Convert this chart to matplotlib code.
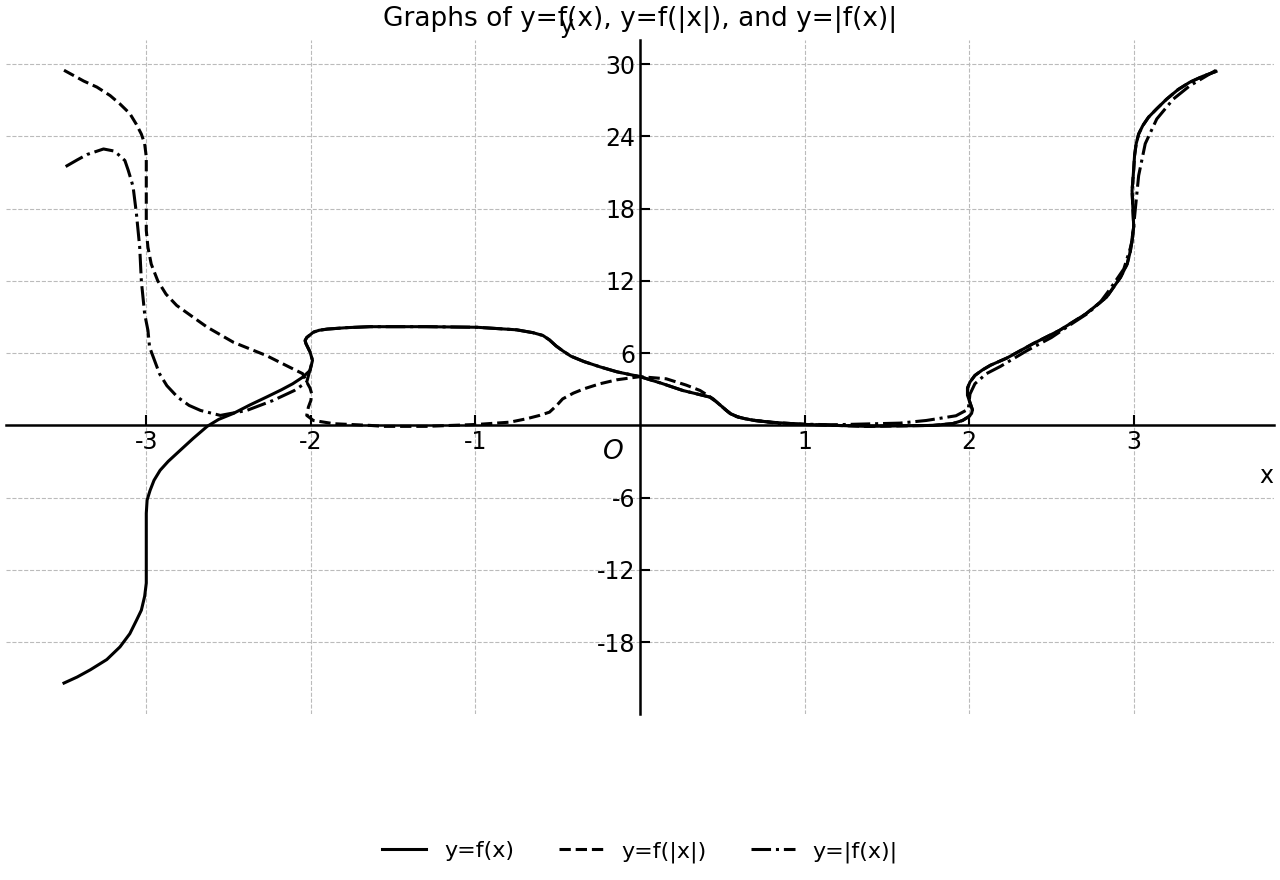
import matplotlib
matplotlib.use("Agg")
import matplotlib.pyplot as plt

plt.rcParams["axes.unicode_minus"] = False

# y = f(x) as (x, y) points
fx_x = [-3.50, -3.42, -3.34, -3.24, -3.16, -3.10, -3.06, -3.03, -3.01, -3.00,
        -3.00, -3.00, -2.995, -2.977, -2.953, -2.916, -2.867, -2.794, -2.715, -2.63,
        -2.56, -2.47, -2.37, -2.27, -2.18, -2.11, -2.05, -2.005, -1.99, -2.005,
        -2.03, -2.035, -2.025, -1.985, -1.95, -1.90, -1.78, -1.64, -1.30, -0.99,
        -0.75, -0.65, -0.59, -0.55, -0.51, -0.47, -0.42, -0.34, -0.24, -0.14,
        0.00, 0.13, 0.26, 0.425, 0.46, 0.49, 0.52, 0.55, 0.59, 0.64,
        0.70, 0.81, 1.00, 1.38, 1.78, 1.90, 1.96, 2.00, 2.015, 2.02,
        2.005, 1.99, 1.99, 2.005, 2.035, 2.08, 2.13, 2.23, 2.39, 2.55,
        2.71, 2.835, 2.92, 2.96, 2.98, 3.00, 2.99, 3.00, 3.005, 3.015,
        3.03, 3.055, 3.09, 3.14, 3.20, 3.27, 3.34, 3.42, 3.50]
fx_y = [-21.4, -20.9, -20.3, -19.45, -18.4, -17.3, -16.2, -15.35, -14.2, -13.1,
        -10.1, -7.3, -6.2, -5.4, -4.56, -3.73, -2.99, -2.07, -1.08, -0.08,
        0.5, 1.0, 1.7, 2.35, 2.95, 3.46, 4.0, 4.56, 5.4, 6.1,
        6.8, 7.05, 7.3, 7.74, 7.9, 8.0, 8.12, 8.2, 8.2, 8.15,
        7.94, 7.7, 7.47, 7.1, 6.6, 6.2, 5.75, 5.3, 4.85, 4.45,
        4.05, 3.5, 2.9, 2.35, 2.0, 1.66, 1.3, 0.97, 0.72, 0.55,
        0.40, 0.25, 0.08, -0.08, 0.0, 0.15, 0.41, 0.75, 1.0, 1.3,
        1.9, 2.5, 3.1, 3.6, 4.15, 4.6, 5.0, 5.6, 6.8, 7.9,
        9.27, 10.65, 12.3, 13.4, 14.5, 16.5, 19.5, 21.3, 22.4, 23.4,
        24.2, 24.9, 25.6, 26.3, 27.1, 27.9, 28.5, 29.0, 29.4]

# y = f(|x|)
fabs_x = [-3.50, -3.38, -3.30, -3.22, -3.16, -3.10, -3.06, -3.03, -3.01, -3.00,
          -3.00, -3.00, -3.00, -2.99, -2.97, -2.93, -2.88, -2.815, -2.73, -2.63,
          -2.47, -2.27, -2.13, -2.05, -2.025, -2.005, -1.995, -2.00, -2.015, -2.025,
          -1.985, -1.86, -1.64, -1.56, -1.30, -0.99, -0.79, -0.69, -0.61, -0.55,
          -0.506, -0.47, -0.405, -0.34, -0.243, -0.14, 0.00, 0.16, 0.28, 0.365,
          0.445, 0.49, 0.52, 0.55, 0.59, 0.64, 0.70, 0.81, 1.00, 1.38,
          1.78, 1.90, 1.96, 2.00, 2.015, 2.02, 2.005, 1.99, 1.99, 2.005,
          2.035, 2.08, 2.13, 2.23, 2.39, 2.55, 2.71, 2.835, 2.92, 2.96,
          2.98, 3.00, 2.99, 3.00, 3.005, 3.015, 3.03, 3.055, 3.09, 3.14,
          3.20, 3.27, 3.34, 3.42, 3.50]
fabs_y = [29.5, 28.6, 28.1, 27.4, 26.7, 25.9, 25.0, 24.2, 23.4, 22.3,
          21.2, 18.9, 16.2, 14.8, 13.4, 12.0, 10.9, 9.96, 9.13, 8.16,
          6.9, 5.8, 4.84, 4.3, 3.6, 3.1, 2.63, 2.07, 1.52, 0.83,
          0.41, 0.14, 0.0, -0.08, -0.08, 0.08, 0.27, 0.55, 0.83, 1.1,
          1.66, 2.2, 2.68, 3.04, 3.46, 3.79, 4.05, 3.87, 3.35, 2.9,
          2.2, 1.66, 1.3, 0.97, 0.72, 0.55, 0.40, 0.25, 0.08, -0.08,
          0.0, 0.15, 0.41, 0.75, 1.0, 1.3, 1.9, 2.5, 3.1, 3.6,
          4.15, 4.6, 5.0, 5.6, 6.8, 7.9, 9.27, 10.65, 12.3, 13.4,
          14.5, 16.5, 19.5, 21.3, 22.4, 23.4, 24.2, 24.9, 25.6, 26.3,
          27.1, 27.9, 28.5, 29.0, 29.4]

# y = |f(x)|
absf_x = [-3.49, -3.42, -3.36, -3.26, -3.20, -3.17, -3.13, -3.11, -3.09, -3.08,
          -3.06, -3.04, -3.03, -3.01, -2.99, -2.98, -2.95, -2.92, -2.875, -2.81,
          -2.74, -2.67, -2.55, -2.39, -2.23, -2.10, -2.025, -1.99, -2.005, -2.03,
          -2.035, -2.025, -1.985, -1.95, -1.90, -1.78, -1.64, -1.30, -0.99, -0.75,
          -0.65, -0.59, -0.55, -0.51, -0.47, -0.42, -0.34, -0.24, -0.14, 0.00,
          0.13, 0.26, 0.425, 0.46, 0.49, 0.52, 0.55, 0.60, 0.67, 0.85,
          1.17, 1.58, 1.74, 1.92, 1.995, 2.005, 2.035, 2.105, 2.19, 2.35,
          2.50, 2.63, 2.72, 2.795, 2.855, 2.94, 2.99, 3.01, 3.03, 3.07,
          3.14, 3.24, 3.34, 3.50]
absf_y = [21.5, 22.05, 22.5, 22.96, 22.8, 22.5, 22.0, 21.2, 20.3, 19.8,
          17.6, 14.8, 12.0, 9.27, 7.9, 6.5, 5.4, 4.3, 3.3, 2.35,
          1.66, 1.24, 0.83, 1.24, 2.07, 2.9, 3.6, 5.4, 6.1, 6.8,
          7.05, 7.3, 7.74, 7.9, 8.0, 8.12, 8.2, 8.2, 8.15, 7.94,
          7.7, 7.47, 7.1, 6.6, 6.2, 5.75, 5.3, 4.85, 4.45, 4.05,
          3.5, 2.9, 2.35, 2.0, 1.66, 1.3, 0.97, 0.68, 0.47, 0.15,
          0.05, 0.19, 0.41, 0.8, 1.35, 2.6, 3.46, 4.3, 4.9, 6.2,
          7.3, 8.5, 9.3, 10.2, 11.3, 13.0, 15.2, 18.0, 20.75, 23.4,
          25.45, 27.1, 28.2, 29.5]

xticks = [-3, -2, -1, 1, 2, 3]
yticks = [-18, -12, -6, 6, 12, 18, 24, 30]

fig, ax = plt.subplots(figsize=(12.8, 8.8), dpi=100)
fig.subplots_adjust(left=0.005, right=0.995, top=0.955, bottom=0.189)

ax.plot(fx_x, fx_y, "-", color="black", lw=2.2, label="y=f(x)")
ax.plot(fabs_x, fabs_y, "--", color="black", lw=2.2, label="y=f(|x|)")
ax.plot(absf_x, absf_y, "-.", color="black", lw=2.2, label="y=|f(x)|")

ax.spines["left"].set_position("zero")
ax.spines["bottom"].set_position("zero")
ax.spines["right"].set_visible(False)
ax.spines["top"].set_visible(False)
for s in ("left", "bottom"):
    ax.spines[s].set_linewidth(1.8)

ax.set_xticks(xticks)
ax.set_yticks(yticks)
ax.tick_params(direction="in", length=7, width=1.5, labelsize=17)
ax.grid(True, linestyle="--", color="#bbbbbb", linewidth=0.8)

ax.text(-0.16, -2.2, "O", fontsize=19, style="italic", ha="center", va="center")
ax.text(0.994, 0.352, "x", transform=ax.transAxes, fontsize=17,
        ha="center", va="center")
ax.text(0.442, 1.02, "y", transform=ax.transAxes, fontsize=17,
        ha="center", va="center")
ax.set_title("Graphs of y=f(x), y=f(|x|), and y=|f(x)|", fontsize=19, pad=10)

fig.legend(loc="center", bbox_to_anchor=(0.5, 0.032), ncol=3,
           frameon=False, fontsize=16)

fig.savefig("out.png", dpi=100)
